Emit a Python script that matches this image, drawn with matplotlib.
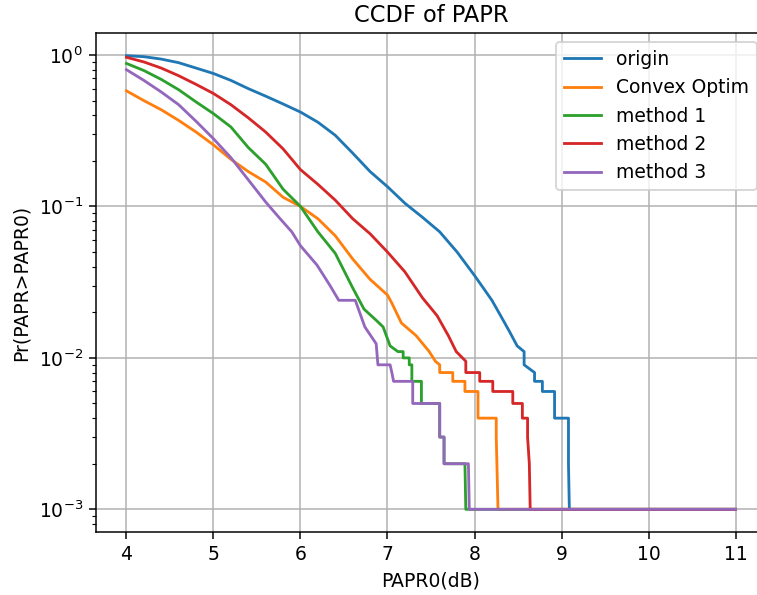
import numpy as np
import matplotlib
matplotlib.use("Agg")
import matplotlib.pyplot as plt

# --- data (PAPR0 in dB, CCDF value) ---
labels = ["origin", "Convex Optim", "method 1", "method 2", "method 3"]

origin_x = [4.0, 4.2, 4.4, 4.6, 4.8, 5.0, 5.2, 5.4, 5.6, 5.8, 6.0, 6.2, 6.4, 6.6, 6.8,
            7.0, 7.2, 7.4, 7.6, 7.8, 8.0, 8.1, 8.2, 8.3, 8.4, 8.49, 8.57, 8.57, 8.69, 8.69,
            8.78, 8.78, 8.92, 8.92, 9.08, 9.08, 9.09, 11.0]
origin_y = [0.99, 0.975, 0.94, 0.89, 0.82, 0.755, 0.68, 0.60, 0.535, 0.475, 0.42, 0.36, 0.295, 0.225, 0.17,
            0.135, 0.105, 0.085, 0.068, 0.050, 0.035, 0.029, 0.024, 0.019, 0.015, 0.012, 0.011, 0.009, 0.008, 0.007,
            0.007, 0.006, 0.006, 0.004, 0.004, 0.002, 0.001, 0.001]

convex_x = [4.0, 4.2, 4.4, 4.6, 4.8, 5.0, 5.2, 5.4, 5.6, 5.8, 6.0, 6.2, 6.4, 6.6, 6.8,
            7.0, 7.05, 7.16, 7.33, 7.48, 7.55, 7.6, 7.6, 7.75, 7.75, 7.89, 7.89, 8.04, 8.04, 8.25,
            8.25, 8.27, 11.0]
convex_y = [0.58, 0.50, 0.435, 0.37, 0.31, 0.255, 0.205, 0.17, 0.145, 0.115, 0.10, 0.083, 0.064, 0.045, 0.033,
            0.026, 0.023, 0.017, 0.014, 0.011, 0.0095, 0.009, 0.008, 0.008, 0.007, 0.007, 0.006, 0.006, 0.004, 0.004,
            0.003, 0.001, 0.001]

m1_x = [4.0, 4.2, 4.4, 4.6, 4.8, 5.0, 5.2, 5.4, 5.6, 5.8, 6.0, 6.2, 6.4, 6.6, 6.73,
        6.88, 6.95, 7.03, 7.12, 7.18, 7.18, 7.25, 7.25, 7.28, 7.28, 7.39, 7.39, 7.6, 7.6, 7.65,
        7.65, 7.89, 7.9, 11.0]
m1_y = [0.88, 0.79, 0.69, 0.59, 0.49, 0.41, 0.335, 0.245, 0.19, 0.13, 0.10, 0.068, 0.049, 0.029, 0.021,
        0.0175, 0.016, 0.012, 0.011, 0.011, 0.01, 0.01, 0.009, 0.009, 0.007, 0.007, 0.005, 0.005, 0.003, 0.003,
        0.002, 0.002, 0.001, 0.001]

m2_x = [4.0, 4.2, 4.4, 4.6, 4.8, 5.0, 5.2, 5.4, 5.6, 5.8, 6.0, 6.2, 6.4, 6.6, 6.8,
        7.0, 7.2, 7.4, 7.57, 7.7, 7.79, 7.9, 7.9, 8.06, 8.06, 8.21, 8.21, 8.44, 8.44, 8.55,
        8.55, 8.61, 8.61, 8.63, 8.64, 11.0]
m2_y = [0.966, 0.90, 0.82, 0.73, 0.64, 0.557, 0.47, 0.385, 0.31, 0.24, 0.175, 0.14, 0.11, 0.083, 0.066,
        0.050, 0.037, 0.025, 0.019, 0.014, 0.011, 0.0095, 0.008, 0.008, 0.007, 0.007, 0.006, 0.006, 0.005, 0.005,
        0.004, 0.004, 0.003, 0.002, 0.001, 0.001]

m3_x = [4.0, 4.2, 4.4, 4.6, 4.8, 5.0, 5.2, 5.4, 5.6, 5.75, 5.9, 6.0, 6.19, 6.34, 6.44,
        6.63, 6.74, 6.87, 6.89, 7.03, 7.05, 7.07, 7.29, 7.29, 7.6, 7.6, 7.65, 7.65, 7.93, 7.94,
        11.0]
m3_y = [0.80, 0.68, 0.57, 0.47, 0.365, 0.28, 0.21, 0.15, 0.107, 0.085, 0.068, 0.055, 0.041, 0.030, 0.024,
        0.024, 0.016, 0.0124, 0.009, 0.009, 0.008, 0.007, 0.007, 0.005, 0.005, 0.003, 0.003, 0.002, 0.002, 0.001,
        0.001]

series = [(origin_x, origin_y), (convex_x, convex_y), (m1_x, m1_y), (m2_x, m2_y), (m3_x, m3_y)]

# --- plotting ---
DPI = 135
fig = plt.figure(figsize=(757 / DPI, 595 / DPI), dpi=DPI)
ax = fig.add_axes([96 / 757, 63 / 595, 670 / 757, 469 / 595 + 30 / 595])

for (x, y), lab in zip(series, labels):
    ax.plot(x, y, label=lab)

ax.set_yscale("log")
ax.set_xticks(np.arange(4, 12, 1))
ax.set_title("CCDF of PAPR")
ax.set_xlabel("PAPR0(dB)")
ax.set_ylabel("Pr(PAPR>PAPR0)")
ax.grid(True)
ax.legend(loc="upper right")

fig.savefig("out.png", dpi=DPI)
